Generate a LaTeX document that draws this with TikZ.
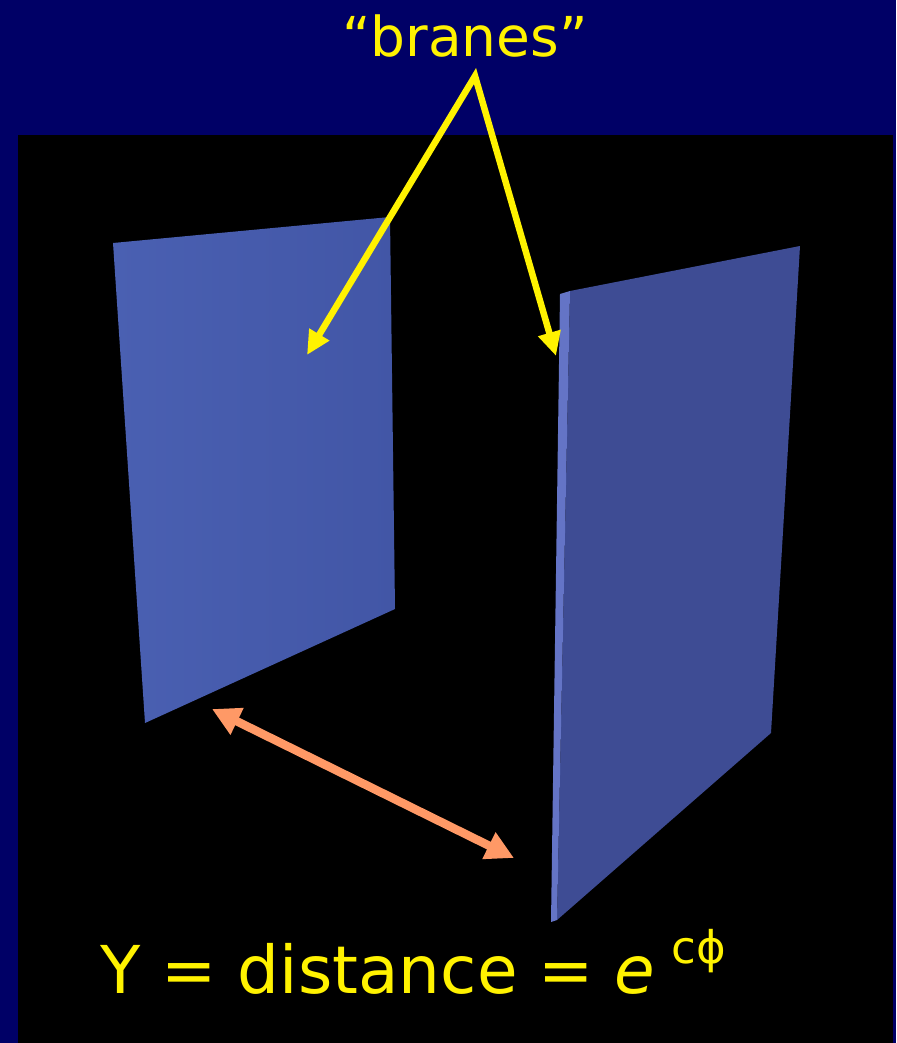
\documentclass[tikz,border=0pt]{standalone}
\usepackage{fontspec}
\newfontfamily\handfont{DejaVu Sans}
\usetikzlibrary{arrows.meta}

\definecolor{navy}{RGB}{0,0,102}
\definecolor{braneleft}{RGB}{74,96,178}
\definecolor{braneright}{RGB}{66,86,166}
\definecolor{branedark}{RGB}{62,76,148}
\definecolor{braneedge}{RGB}{100,116,198}
\definecolor{gapcolor}{RGB}{255,153,102}

\tikzset{
  label text/.style={text=yellow, inner sep=0pt, font=\handfont},
  brane arrow/.style={yellow, line width=6.5pt, line join=miter,
    {Triangle[length=24pt,width=22pt]}-{Triangle[length=24pt,width=22pt]}},
  gap arrow/.style={gapcolor, line width=8.5pt,
    {Triangle[length=28pt,width=28pt]}-{Triangle[length=28pt,width=28pt]}}
}

\begin{document}
\begin{tikzpicture}[x=1pt, y=-1pt, thick]
  \useasboundingbox (0,0) rectangle (896,1043);
  \fill[navy] (0,0) rectangle (896,1043);
  \fill[black] (18,135) rectangle (893,1043);

  % left brane
  \coordinate (L1) at (113,243);
  \coordinate (L2) at (390,217);
  \coordinate (L3) at (395,609);
  \coordinate (L4) at (145,723);
  \shade[left color=braneleft, right color=braneright] (L1) -- (L2) -- (L3) -- (L4) -- cycle;

  % right brane, with its lit edge
  \coordinate (R1) at (570,291);
  \coordinate (R2) at (800,246);
  \coordinate (R3) at (771,733);
  \coordinate (R4) at (557,920);
  \coordinate (E1) at (560,294);
  \coordinate (E2) at (551,922);
  \fill[branedark] (R1) -- (R2) -- (R3) -- (R4) -- cycle;
  \fill[braneedge] (E1) -- (R1) -- (R4) -- (E2) -- cycle;

  % labels
  \node[label text, font=\handfont\fontsize{55}{60}\selectfont] (branes) at (465,36) {“branes”};
  \coordinate (apex) at (475,76);
  \coordinate (onleft) at (307,355);
  \coordinate (onright) at (556,356);
  \draw[brane arrow] (onleft) -- (apex) -- (onright);

  \coordinate (gapA) at (212,709);
  \coordinate (gapB) at (514,858);
  \draw[gap arrow] (gapA) -- (gapB);

  \node[label text, anchor=base west, font=\handfont\fontsize{66}{72}\selectfont] (formula) at (100,993)
    {Y = distance = \textit{e}\hspace{16pt}{\fontsize{45}{45}\selectfont\raisebox{30pt}{cϕ}}};
\end{tikzpicture}
\end{document}
